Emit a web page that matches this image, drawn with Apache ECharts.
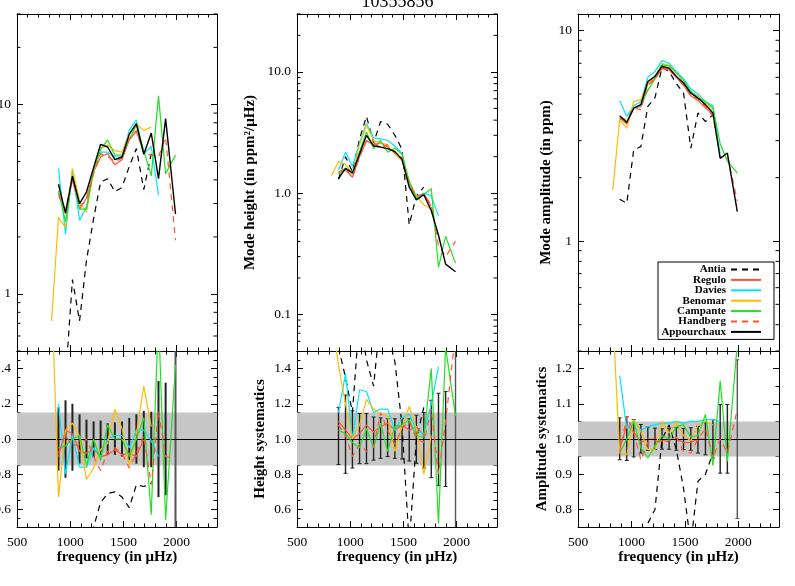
<!DOCTYPE html>
<html><head><meta charset="utf-8">
<script src="https://cdn.jsdelivr.net/npm/echarts@6/dist/echarts.min.js"></script>
<style>html,body{margin:0;padding:0;background:#fff}#c{width:795px;height:586px}</style>
</head><body><div id="c"></div>
<script>
// ---------- data ----------
const freq = [825, 890, 956, 1021, 1088, 1153, 1220, 1286, 1352, 1420, 1487, 1555, 1622, 1692, 1762, 1830, 1897, 1990];
const names = ['Antia','Regulo','Davies','Benomar','Campante','Handberg','Appourchaux'];

// left top panel
const lAntia   = [null, null, 0.35, 1.19, 0.72, 1.5, 2.5, 3.9, 4.05, 3.46, 3.65, 4.7, 5.85, 3.55, 5.5, null, null, null];
const lRegulo  = [null, 3.4, 2.7, 4.0, 2.8, 3.2, 4.4, 5.3, 5.5, 4.8, 5.1, 6.5, 7.2, 5.6, null, null, null, null];
const lDavies  = [null, 4.6, 2.07, 4.5, 2.45, 2.88, 4.5, 5.6, 5.6, 5.28, 5.28, 7.3, 8.3, 5.5, 6.0, 3.32, null, null];
const lBenomar = [0.72, 2.53, 2.24, 4.59, 3.1, 2.7, 4.4, 5.85, 6.1, 5.7, 5.6, 7.0, 7.9, 7.3, 7.6, null, null, null];
const lCampante= [null, 3.5, 2.4, 4.2, 2.8, 2.8, 4.5, 5.8, 6.5, 5.4, 5.4, 6.5, 7.8, 5.7, 4.2, 11.1, 4.3, 5.4];
const lHandberg= [null, 3.3, 2.8, 4.1, 2.9, 3.1, 4.3, 5.5, 5.3, 5.0, 5.2, 6.6, 7.3, 5.5, 5.4, 5.3, 6.7, 1.92];
const lAppour  = [null, 3.79, 2.66, 4.18, 3.0, 3.45, 4.64, 6.16, 5.96, 5.11, 5.28, 6.95, 7.91, 5.46, 7.06, 4.06, 8.41, 2.64];

// middle top panel (mode height)
const hAntia   = [null, 1.3, 2.0, 1.5, 2.8, 4.3, 2.6, 3.9, 3.7, 3.0, 2.3, 0.55, 0.95, 1.12, null, null, null, null];
const hRegulo  = [null, 1.45, 1.55, 1.35, 2.0, 2.7, 2.5, 2.6, 2.4, 2.2, 1.9, 1.2, 0.92, 1.0, 0.78, null, null, null];
const hDavies  = [null, 1.55, 2.18, 1.67, 2.6, 3.75, 2.86, 2.8, 2.72, 2.45, 2.13, 1.2, 0.92, 1.0, 0.95, 0.65, null, null];
const hBenomar = [1.4, 1.82, 1.73, 1.45, 2.5, 3.65, 2.7, 2.6, 2.5, 2.1, 1.85, 1.25, 0.95, 0.8, 0.74, null, null, null];
const hCampante= [null, 1.45, 1.6, 1.45, 2.2, 3.2, 2.33, 2.72, 2.18, 2.35, 2.09, 1.25, 0.9, 0.98, 1.09, 0.245, 0.44, 0.265];
const hHandberg= [null, 1.5, 1.6, 1.34, 2.0, 2.7, 2.6, 2.4, 2.5, 2.15, 1.95, 1.2, 0.95, 0.98, 0.8, 0.37, 0.3, 0.4];
const hAppour  = [null, 1.32, 1.6, 1.47, 2.1, 3.0, 2.45, 2.4, 2.33, 2.2, 1.9, 1.12, 0.88, 0.97, 0.72, 0.45, 0.26, 0.225];

// right top panel (mode amplitude)
const aAntia   = [null, 1.58, 1.51, 2.71, 2.81, 4.36, 4.8, 6.7, 6.4, 5.6, 5.05, 2.76, 4.06, 3.7, 3.98, null, null, null];
const aRegulo  = [null, 3.85, 3.6, 4.3, 4.35, 5.6, 5.9, 6.6, 6.5, 6.0, 5.5, 4.9, 4.65, 4.3, 4.0, null, null, null];
const aDavies  = [null, 4.66, 3.91, 4.4, 4.6, 6.0, 6.4, 7.2, 7.0, 6.4, 5.9, 5.3, 5.0, 4.6, 4.4, 2.6, null, null];
const aBenomar = [1.75, 3.77, 3.44, 4.6, 4.7, 5.6, 6.1, 7.0, 6.85, 6.3, 5.75, 5.1, 4.9, 4.55, 4.2, null, null, null];
const aCampante= [null, 3.9, 3.7, 4.3, 4.4, 5.2, 5.9, 6.9, 6.8, 6.3, 5.8, 5.15, 4.8, 4.6, 4.3, 2.9, 2.4, 2.1];
const aHandberg= [null, 3.8, 3.8, 4.3, 4.2, 5.5, 5.9, 6.6, 6.6, 6.0, 5.5, 4.9, 4.75, 4.35, 3.9, 2.5, 2.55, 1.55];
const aAppour  = [null, 3.94, 3.66, 4.28, 4.45, 5.73, 6.06, 6.77, 6.64, 6.06, 5.64, 5.05, 4.78, 4.45, 4.06, 2.47, 2.62, 1.38];

// left bottom panel (systematics)
const rlAntia   = [null, null, 0.1, 0.29, 0.24, 0.38, 0.5, 0.64, 0.69, 0.70, 0.67, 0.61, 0.74, 0.73, 0.75, null, null, null];
const rlRegulo  = [null, 0.9, 1.05, 1.03, 0.93, 0.92, 0.94, 0.9, 0.91, 0.94, 0.91, 0.92, 0.9, 1.0, null, null, null, null];
const rlDavies  = [null, 1.2, 0.8, 1.02, 0.84, 0.84, 0.95, 0.9, 1.0, 1.02, 1.02, 0.95, 1.05, 1.05, 0.99, 0.9, null, null];
const rlBenomar = [1.85, 0.67, 1.05, 1.09, 1.015, 0.77, 0.835, 0.94, 0.975, 1.17, 1.06, 0.85, 1.03, 1.3, 1.07, null, null, null];
const rlCampante= [null, 0.95, 0.96, 1.0, 1.02, 0.85, 1.0, 0.88, 1.08, 1.0, 1.0, 0.9, 1.0, 1.12, 0.57, 1.7, 0.54, 1.42];
const rlHandberg= [null, 0.92, 1.02, 0.96, 0.97, 1.0, 0.9, 0.82, 0.93, 0.95, 0.92, 0.835, 0.92, 1.02, 0.74, 1.16, 0.9, 0.89];

// middle bottom panel
const rhAntia   = [null, 1.52, 1.35, 1.15, 1.7, 1.45, 1.3, 1.7, 1.6, 1.44, 1.08, 0.4, 1.0, 1.18, null, null, null, null];
const rhRegulo  = [null, 1.1, 1.05, 1.0, 1.03, 1.08, 1.04, 1.07, 1.09, 1.05, 1.08, 1.05, 1.07, 1.02, null, null, null, null];
const rhDavies  = [null, 1.15, 1.37, 1.0, 1.28, 1.27, 1.15, 1.17, 1.17, 1.05, 1.12, 1.14, 1.05, 1.03, 1.2, 1.41, null, null];
const rhBenomar = [1.7, 1.42, 1.2, 1.0, 1.08, 1.225, 1.17, 1.14, 1.13, 0.93, 1.07, 1.185, 1.06, 0.8, 1.02, null, null, null];
const rhCampante= [null, 1.05, 1.03, 0.98, 0.95, 1.06, 0.95, 1.09, 0.93, 1.07, 1.08, 1.11, 1.02, 1.01, 1.4, 0.52, 1.52, 1.13];
const rhHandberg= [null, 1.08, 1.02, 0.9, 0.97, 0.93, 0.96, 1.15, 1.05, 0.97, 1.06, 1.1, 1.0, 0.98, 1.17, 0.8, 1.1, 1.6];

// right bottom panel
const raAntia   = [null, 0.39, 0.4, 0.63, 0.63, 0.76, 0.8, 1.0, 1.04, 0.97, 0.86, 0.7, 0.88, 0.9, 0.96, null, null, null];
const raRegulo  = [null, 0.97, 1.04, 1.02, 0.99, 1.0, 1.0, 0.995, 1.0, 1.0, 0.99, 0.99, 1.0, 1.0, null, null, null, null];
const raDavies  = [null, 1.18, 1.03, 1.05, 1.025, 1.035, 1.04, 1.045, 1.045, 1.05, 1.045, 1.05, 1.05, 1.055, 1.055, 1.05, null, null];
const raBenomar = [1.35, 0.96, 0.955, 1.055, 1.02, 0.97, 0.97, 1.05, 1.017, 1.05, 1.01, 0.995, 1.04, 1.05, 1.04, null, null, null];
const raCampante= [null, 0.96, 1.0, 1.05, 0.975, 0.946, 0.98, 1.01, 1.0, 1.035, 1.04, 1.005, 1.01, 1.07, 0.924, 1.165, 0.936, 1.27];
const raHandberg= [null, 0.96, 1.065, 1.02, 0.94, 0.99, 0.995, 0.99, 0.995, 1.005, 0.965, 0.96, 1.0, 1.03, 0.946, 1.0, 0.96, 1.084];

// error bars (lower / upper) of the systematics panels
const errLoL = [null, 0.82, 0.78, 0.82, 0.86, 0.89, 0.895, 0.895, 0.91, 0.91, 0.9, 0.88, 0.86, 0.84, 0.84, 0.67, 0.68, 0.3];
const errHiL = [null, 1.18, 1.22, 1.2, 1.14, 1.11, 1.1, 1.105, 1.09, 1.095, 1.1, 1.12, 1.14, 1.16, 1.155, 1.33, 1.32, 1.7];
const errLoH = [null, 0.855, 0.805, 0.835, 0.86, 0.86, 0.88, 0.89, 0.9, 0.89, 0.886, 0.875, 0.862, 0.835, 0.78, 0.735, 0.73, 0.3];
const errHiH = [null, 1.18, 1.25, 1.16, 1.145, 1.145, 1.125, 1.12, 1.115, 1.115, 1.115, 1.115, 1.135, 1.15, 1.22, 1.26, 1.27, 1.7];
const errLoA = [null, 0.941, 0.939, 0.949, 0.96, 0.968, 0.97, 0.971, 0.971, 0.968, 0.97, 0.968, 0.96, 0.955, 0.946, 0.903, 0.903, 0.774];
const errHiA = [null, 1.06, 1.063, 1.055, 1.041, 1.034, 1.031, 1.029, 1.029, 1.032, 1.03, 1.032, 1.036, 1.046, 1.055, 1.098, 1.098, 1.225];

// shaded bands and reference level
const bandHW = [0.85, 1.15];
const bandA  = [0.95, 1.05];
const refLevel = 1.0;

// log-axis minor tick values
const minorL = [0.5, 0.6, 0.7, 0.8, 0.9, 2, 3, 4, 5, 6, 7, 8, 9, 20, 30];
const minorH = [0.06, 0.07, 0.08, 0.09, 0.2, 0.3, 0.4, 0.5, 0.6, 0.7, 0.8, 0.9, 2, 3, 4, 5, 6, 7, 8, 9, 20, 30];
const minorA = [0.3, 0.4, 0.5, 0.6, 0.7, 0.8, 0.9, 2, 3, 4, 5, 6, 7, 8, 9];

const titleText = '10355856';

// ---------- build ----------
const F = 'Liberation Serif';
const styles = {
  Antia:       {color: '#000000', type: [6, 5], width: 1.2},
  Regulo:      {color: '#ff5530', type: 'solid', width: 1.2},
  Davies:      {color: '#00e5ff', type: 'solid', width: 1.2},
  Benomar:     {color: '#ffbb00', type: 'solid', width: 1.2},
  Campante:    {color: '#22e022', type: 'solid', width: 1.2},
  Handberg:    {color: '#ff5530', type: [6, 5], width: 1.2},
  Appourchaux: {color: '#000000', type: 'solid', width: 1.4}
};

const grids = [
  {left: 17,  top: 14,  width: 200, height: 337},
  {left: 17,  top: 351, width: 200, height: 176},
  {left: 297, top: 14,  width: 200, height: 337},
  {left: 297, top: 351, width: 200, height: 176},
  {left: 578, top: 14,  width: 201, height: 337},
  {left: 578, top: 351, width: 201, height: 176}
];

const lineC = {color: '#000', width: 1};
const tickLabel = {color: '#000', fontFamily: F, fontSize: 13.5};
const nameStyle = {color: '#000', fontFamily: F, fontSize: 15, fontWeight: 'bold'};

const xAxis = [], yAxis = [];
grids.forEach((g, gi) => {
  const isBottom = gi % 2 === 1;
  const base = {type: 'value', gridIndex: gi, min: 500, max: 2380, interval: 500,
    axisLine: {show: true, onZero: false, lineStyle: lineC},
    axisTick: {show: true, inside: true, length: 6, lineStyle: lineC},
    minorTick: {show: true, splitNumber: 5, length: 3.5, lineStyle: lineC},
    splitLine: {show: false}, minorSplitLine: {show: false}};
  xAxis.push(Object.assign({}, base, {position: 'bottom',
    axisLabel: {show: isBottom, margin: 8, showMaxLabel: false, formatter: v => String(Math.round(v)), ...tickLabel},
    name: isBottom ? 'frequency (in \u03bcHz)' : '', nameLocation: 'middle', nameGap: 22, nameTextStyle: nameStyle}));
  xAxis.push(Object.assign({}, base, {position: 'top', axisLabel: {show: false}}));
});

function logY(gi, min, max, fmt, name, gap) {
  const base = {type: 'log', logBase: 10, gridIndex: gi, min: min, max: max,
    axisLine: {show: true, onZero: false, lineStyle: lineC},
    axisTick: {show: true, inside: true, length: 6, lineStyle: lineC},
    splitLine: {show: false}};
  yAxis.push(Object.assign({}, base, {position: 'left',
    axisLabel: {show: true, margin: 6, showMinLabel: false, showMaxLabel: false, formatter: fmt, ...tickLabel},
    name: name, nameLocation: 'middle', nameGap: gap, nameTextStyle: nameStyle}));
  yAxis.push(Object.assign({}, base, {position: 'right', axisLabel: {show: false}}));
}
function linY(gi, min, max, split, name, gap) {
  const base = {type: 'value', gridIndex: gi, min: min, max: max, splitNumber: 5,
    axisLine: {show: true, onZero: false, lineStyle: lineC},
    axisTick: {show: true, inside: true, length: 6, lineStyle: lineC},
    minorTick: {show: true, splitNumber: split, length: 3.5, lineStyle: lineC},
    splitLine: {show: false}, minorSplitLine: {show: false}};
  yAxis.push(Object.assign({}, base, {position: 'left',
    axisLabel: {show: true, margin: 6, showMinLabel: false, showMaxLabel: false, formatter: v => Number(v).toFixed(1), ...tickLabel},
    name: name, nameLocation: 'middle', nameGap: gap, nameTextStyle: nameStyle}));
  yAxis.push(Object.assign({}, base, {position: 'right', axisLabel: {show: false}}));
}
logY(0, 0.5, 30, v => String(+Number(v).toPrecision(3)), '', 40);
linY(1, 0.5, 1.5, 4, '', 40);
logY(2, 0.05, 30, v => Number(v).toFixed(1), 'Mode height (in ppm\u00b2/\u03bcHz)', 39);
linY(3, 0.5, 1.5, 4, 'Height systematics', 29);
logY(4, 0.3, 12, v => String(+Number(v).toPrecision(3)), 'Mode amplitude (in ppm)', 24);
linY(5, 0.75, 1.25, 2, 'Amplitude systematics', 28);

const series = [];
function addLines(gi, arrs) {
  names.forEach((n, k) => {
    const arr = arrs[k];
    if (!arr) return;
    const data = [];
    freq.forEach((f, i) => { if (arr[i] != null) data.push([f, arr[i]]); });
    const s = styles[n];
    series.push({type: 'line', name: n, xAxisIndex: 2 * gi, yAxisIndex: 2 * gi, data: data,
      showSymbol: false, symbol: 'none', silent: true, z: 3 + k, animation: false,
      lineStyle: {color: s.color, type: s.type, width: s.width}, itemStyle: {color: s.color}});
  });
}
addLines(0, [lAntia, lRegulo, lDavies, lBenomar, lCampante, lHandberg, lAppour]);
addLines(2, [hAntia, hRegulo, hDavies, hBenomar, hCampante, hHandberg, hAppour]);
addLines(4, [aAntia, aRegulo, aDavies, aBenomar, aCampante, aHandberg, aAppour]);
addLines(1, [rlAntia, rlRegulo, rlDavies, rlBenomar, rlCampante, rlHandberg, null]);
addLines(3, [rhAntia, rhRegulo, rhDavies, rhBenomar, rhCampante, rhHandberg, null]);
addLines(5, [raAntia, raRegulo, raDavies, raBenomar, raCampante, raHandberg, null]);

function minorTicks(gi, vals) {
  series.push({type: 'custom', xAxisIndex: 2 * gi, yAxisIndex: 2 * gi, silent: true, z: 10, animation: false,
    data: vals.map(v => [500, v]),
    renderItem: function (params, api) {
      const cs = params.coordSys;
      const y = api.coord([api.value(0), api.value(1)])[1];
      return {type: 'group', children: [
        {type: 'line', shape: {x1: cs.x, y1: y, x2: cs.x + 3.5, y2: y}, style: {stroke: '#000', lineWidth: 1}},
        {type: 'line', shape: {x1: cs.x + cs.width - 3.5, y1: y, x2: cs.x + cs.width, y2: y}, style: {stroke: '#000', lineWidth: 1}}
      ]};
    }});
}
minorTicks(0, minorL); minorTicks(2, minorH); minorTicks(4, minorA);

function bandAndBars(gi, band, lo, hi, caps, width) {
  series.push({type: 'line', xAxisIndex: 2 * gi, yAxisIndex: 2 * gi, data: [], z: 1, silent: true, animation: false,
    markArea: {silent: true, itemStyle: {color: '#c6c6c6'}, data: [[{yAxis: band[0]}, {yAxis: band[1]}]]},
    markLine: {silent: true, symbol: 'none', label: {show: false}, lineStyle: {color: '#000', type: 'solid', width: 1.2},
      data: [{yAxis: refLevel}]}});
  const data = [];
  freq.forEach((f, i) => { if (lo[i] != null) data.push([f, lo[i], hi[i]]); });
  series.push({type: 'custom', xAxisIndex: 2 * gi, yAxisIndex: 2 * gi, silent: true, z: 2, clip: true, animation: false,
    data: data, encode: {x: 0, y: [1, 2]},
    renderItem: function (params, api) {
      const p1 = api.coord([api.value(0), api.value(1)]);
      const p2 = api.coord([api.value(0), api.value(2)]);
      const last = params.dataIndex === data.length - 1;
      const col = last ? '#555' : '#222';
      const ch = [{type: 'line', shape: {x1: p1[0], y1: p1[1], x2: p2[0], y2: p2[1]}, style: {stroke: col, lineWidth: width}}];
      if (caps) {
        ch.push({type: 'line', shape: {x1: p1[0] - 2, y1: p1[1], x2: p1[0] + 2, y2: p1[1]}, style: {stroke: col, lineWidth: 1}});
        ch.push({type: 'line', shape: {x1: p2[0] - 2, y1: p2[1], x2: p2[0] + 2, y2: p2[1]}, style: {stroke: col, lineWidth: 1}});
      }
      return {type: 'group', children: ch};
    }});
}
bandAndBars(1, bandHW, errLoL, errHiL, false, 2);
bandAndBars(3, bandHW, errLoH, errHiH, true, 1.4);
bandAndBars(5, bandA, errLoA, errHiA, true, 1.4);

const option = {
  animation: false,
  backgroundColor: '#fff',
  title: {text: titleText, left: 'center', top: -7, padding: 0,
    textStyle: {fontFamily: F, fontSize: 18, fontWeight: 'normal', color: '#000'}},
  grid: grids.map(g => Object.assign({containLabel: false, outerBoundsMode: 'none'}, g)),
  xAxis: xAxis, yAxis: yAxis,
  legend: {data: names, orient: 'vertical', left: 658, top: 262, align: 'right',
    itemWidth: 30, itemHeight: 8, itemGap: -0.6, padding: [2, 12, 2, 2],
    borderColor: '#000', borderWidth: 1, backgroundColor: '#fff', selectedMode: false,
    itemStyle: {opacity: 0},
    formatter: n => '{n|' + n + '}',
    textStyle: {lineHeight: 8, height: 8,
      rich: {n: {width: 66, height: 8, align: 'right', lineHeight: 8, fontFamily: F, fontSize: 11, fontWeight: 'bold', color: '#000'}}}},
  series: series
};
const chart = echarts.init(document.getElementById('c'), null, {renderer: 'canvas'});
chart.setOption(option);
</script></body></html>
